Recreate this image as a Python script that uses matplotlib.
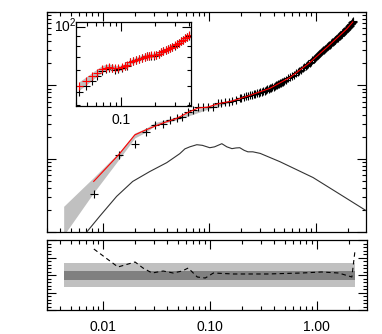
import numpy as np
import matplotlib
matplotlib.use("Agg")
import matplotlib.pyplot as plt
from matplotlib.ticker import LogLocator, NullFormatter, FixedLocator, MultipleLocator

plt.rcParams['font.family'] = ['Liberation Sans', 'DejaVu Sans']
plt.rcParams['mathtext.default'] = 'regular'
plt.rcParams['font.size'] = 10

# ---- main panel: measured points (black crosses)
k_dat = [0.00823, 0.0141, 0.0200, 0.0254, 0.0308, 0.0366, 0.0426, 0.0496, 0.0552,
         0.0628, 0.0700, 0.0780, 0.0869, 0.0968, 0.108, 0.120, 0.130, 0.140, 0.152,
         0.163, 0.178, 0.193,
         0.20, 0.21, 0.22, 0.23, 0.24, 0.25, 0.26, 0.27, 0.28, 0.29, 0.30,
         0.31, 0.32, 0.33, 0.34, 0.35, 0.36, 0.37, 0.38, 0.39, 0.40,
         0.41, 0.42, 0.43, 0.44, 0.45, 0.46, 0.47, 0.48, 0.49, 0.50,
         0.525, 0.55, 0.575, 0.60, 0.625, 0.65, 0.675, 0.70, 0.725, 0.75,
         0.775, 0.80, 0.825, 0.85, 0.875, 0.90, 0.925, 0.95, 0.975, 1.00,
         1.025, 1.05, 1.075, 1.10, 1.125, 1.15, 1.175, 1.20, 1.225, 1.25,
         1.275, 1.30, 1.325, 1.35, 1.375, 1.40, 1.425, 1.45, 1.475, 1.50,
         1.525, 1.55, 1.575, 1.60, 1.625, 1.65, 1.675, 1.70, 1.725, 1.75,
         1.775, 1.80, 1.825, 1.85, 1.875, 1.90, 1.925, 1.95, 1.975, 2.00,
         2.025, 2.05, 2.075, 2.10, 2.125, 2.15, 2.175, 2.20, 2.225, 2.24]
p_dat = [0.326, 1.13, 1.60, 2.32, 2.88, 2.97, 3.37, 3.58, 3.70,
         4.32, 4.59, 5.05, 5.05, 5.05, 5.10, 5.71, 5.80, 5.89, 6.00,
         6.08, 6.40, 6.67,
         6.80, 6.93, 7.05, 7.19, 7.33, 7.44, 7.55, 7.68, 7.80, 7.92, 8.05,
         8.20, 8.35, 8.50, 8.65, 8.80, 8.95, 9.11, 9.27, 9.43, 9.60,
         9.77, 9.95, 10.12, 10.30, 10.47, 10.65, 10.82, 11.00, 11.20, 11.40,
         11.9, 12.4, 12.9, 13.4, 13.95, 14.5, 15.15, 15.8, 16.4, 17.0,
         17.65, 18.3, 18.95, 19.6, 20.35, 21.1, 21.85, 22.6, 23.4, 24.2,
         24.95, 25.7, 26.55, 27.4, 28.25, 29.1, 29.95, 30.8, 31.65, 32.5,
         33.35, 34.2, 35.0, 35.8, 36.7, 37.6, 38.5, 39.4, 40.3, 41.2,
         42.1, 43.0, 43.9, 44.8, 45.6, 46.4, 47.3, 48.2, 49.3, 50.4,
         51.5, 52.6, 53.7, 54.8, 55.8, 56.8, 57.85, 58.9, 60.15, 61.4,
         62.6, 63.8, 65.1, 66.4, 67.9, 69.4, 70.9, 72.4, 73.7, 75.0]

# red model curve
k_mod = [0.00823, 0.0141, 0.0200, 0.0254, 0.0366, 0.0496, 0.0628, 0.078, 0.097,
         0.120, 0.163, 0.24, 0.37, 0.57, 0.88, 1.35, 1.95, 2.22]
p_mod = [0.49, 1.13, 2.11, 2.47, 3.06, 3.55, 4.25, 4.90, 5.05,
         5.60, 6.10, 7.30, 9.10, 12.8, 20.5, 35.8, 58.9, 73.3]

# grey uncertainty band
k_band = [0.0043, 0.0082, 0.0141, 0.0200, 0.0254, 0.0308, 0.05, 0.1, 0.2, 0.5, 1.0, 2.22]
p_hi = [0.224, 0.553, 1.21, 2.24, 2.60, 3.10, 3.75, 5.30, 7.00, 11.6, 25.0, 76.0]
p_lo = [0.09, 0.343, 0.97, 1.92, 2.30, 2.80, 3.40, 4.80, 6.50, 11.0, 23.5, 71.0]

# thin black curve
k_lin = [0.00708, 0.00937, 0.0135, 0.0191, 0.0276, 0.0399, 0.0528, 0.0590, 0.0656,
         0.0763, 0.0860, 0.101, 0.112, 0.131, 0.146, 0.163, 0.178, 0.193, 0.212,
         0.230, 0.256, 0.300, 0.459, 0.94, 1.68, 2.95]
p_lin = [0.10, 0.164, 0.306, 0.489, 0.667, 0.883, 1.17, 1.36, 1.45,
         1.55, 1.52, 1.41, 1.45, 1.60, 1.45, 1.37, 1.40, 1.41, 1.30,
         1.24, 1.24, 1.18, 0.91, 0.553, 0.327, 0.196]

# ---- inset
k_in = [0.0425, 0.0490, 0.0554, 0.0614, 0.0679, 0.0730, 0.0783, 0.0840, 0.0885,
        0.095, 0.102, 0.108, 0.113, 0.120, 0.127, 0.135, 0.144, 0.153, 0.162,
        0.170, 0.177, 0.186, 0.195, 0.205, 0.215, 0.225, 0.236, 0.248, 0.260,
        0.272, 0.285, 0.298, 0.312, 0.326, 0.340, 0.355, 0.370, 0.385, 0.400]
y_in_blk = [4.66, 5.00, 5.30, 5.60, 5.97, 6.10, 6.19, 6.15, 6.04,
            6.10, 6.19, 6.30, 6.34, 6.64, 6.70, 6.80, 6.88, 6.98, 7.05,
            7.10, 7.13, 7.13, 7.15, 7.20, 7.30, 7.42, 7.50, 7.60, 7.70,
            7.80, 7.92, 8.03, 8.15, 8.30, 8.45, 8.60, 8.75, 8.90, 9.03]
y_in_red = [5.00, 5.30, 5.60, 5.85, 6.10, 6.20, 6.25, 6.20, 6.15,
            6.15, 6.22, 6.30, 6.40, 6.60, 6.70, 6.80, 6.90, 6.98, 7.05,
            7.10, 7.14, 7.16, 7.18, 7.22, 7.30, 7.42, 7.52, 7.62, 7.72,
            7.82, 7.94, 8.06, 8.18, 8.32, 8.46, 8.62, 8.78, 8.92, 9.06]
y_in_hi = [5.25, 5.55, 5.85, 6.10, 6.35, 6.43, 6.47, 6.40, 6.35,
           6.35, 6.42, 6.48, 6.58, 6.78, 6.88, 6.98, 7.08, 7.16, 7.23,
           7.28, 7.32, 7.34, 7.36, 7.40, 7.48, 7.60, 7.70, 7.80, 7.90,
           8.00, 8.12, 8.24, 8.36, 8.50, 8.64, 8.80, 8.96, 9.10, 9.24]
y_in_lo = [4.75, 5.05, 5.35, 5.60, 5.85, 5.97, 6.03, 6.00, 5.95,
           5.95, 6.02, 6.12, 6.22, 6.42, 6.52, 6.62, 6.72, 6.80, 6.87,
           6.92, 6.96, 6.98, 7.00, 7.04, 7.12, 7.24, 7.34, 7.44, 7.54,
           7.64, 7.76, 7.88, 8.00, 8.14, 8.28, 8.44, 8.60, 8.74, 8.88]

# ---- ratio panel
k_rat = [0.00823, 0.01163, 0.01383, 0.0200, 0.0237, 0.0288, 0.0366, 0.0454, 0.0552,
         0.0628, 0.0763, 0.0906, 0.108, 0.166, 0.345, 0.723, 1.11, 1.60, 2.13, 2.27]
r_rat = [0.743, 0.40, 0.229, 0.371, 0.20, 0.057, 0.114, 0.057, 0.114,
         0.20, -0.057, -0.086, 0.057, 0.029, 0.029, 0.057, 0.086, 0.057, -0.057, 0.657]
band_k = [0.0043, 2.27]
band_outer = 0.343
band_inner_hi = 0.114
band_inner_lo = -0.143

W, H = 382, 334
fig = plt.figure(figsize=(W / 100, H / 100), dpi=100)
ax = fig.add_axes([47 / W, 1 - 232 / H, 319 / W, 220 / H])
axr = fig.add_axes([47 / W, 1 - 310 / H, 320 / W, 70 / H])
axin = fig.add_axes([76 / W, 1 - 106 / H, 115 / W, 84 / H])

def style(a):
    a.tick_params(which='both', direction='in', top=True, right=True, width=0.8)
    a.tick_params(which='major', length=6.5)
    a.tick_params(which='minor', length=3)
    for s in a.spines.values():
        s.set_linewidth(0.9)

# main
ax.fill_between(k_band, p_lo, p_hi, color='#c0c0c0', lw=0)
ax.plot(k_lin, p_lin, color='#333333', lw=0.8)
ax.plot(k_dat, p_dat, '+', color='k', ms=5.5, mew=0.8)
ax.plot(k_mod, p_mod, color='red', lw=0.8)
ax.set_xscale('log')
ax.set_yscale('log')
ax.set_xlim(0.003, 2.95)
ax.set_ylim(0.1, 100)
ax.xaxis.set_major_locator(FixedLocator([0.01, 0.1, 1.0]))
ax.xaxis.set_minor_locator(LogLocator(base=10, subs=np.arange(2, 10), numticks=20))
ax.yaxis.set_minor_locator(LogLocator(base=10, subs=np.arange(2, 10), numticks=20))
ax.xaxis.set_major_formatter(NullFormatter())
ax.xaxis.set_minor_formatter(NullFormatter())
ax.yaxis.set_major_formatter(NullFormatter())
ax.yaxis.set_minor_formatter(NullFormatter())
style(ax)
fig.text(54 / W, 1 - 26 / H, '$10^2$', ha='left', va='center', fontsize=10)

# inset
axin.fill_between(k_in, y_in_lo, y_in_hi, color='#c0c0c0', lw=0)
axin.plot(k_in, y_in_blk, '+', color='k', ms=6, mew=0.8)
axin.plot(k_in, y_in_red, '+', color='red', ms=6, mew=0.8)
axin.set_xscale('log')
axin.set_yscale('log')
axin.set_xlim(0.040, 0.416)
axin.set_ylim(3.95, 10.6)
axin.xaxis.set_major_locator(FixedLocator([0.1]))
axin.xaxis.set_major_formatter(plt.FixedFormatter(['0.1']))
axin.xaxis.set_minor_locator(LogLocator(base=10, subs=np.arange(2, 10), numticks=20))
axin.xaxis.set_minor_formatter(NullFormatter())
axin.yaxis.set_minor_locator(LogLocator(base=10, subs=np.arange(2, 10), numticks=20))
axin.yaxis.set_major_formatter(NullFormatter())
axin.yaxis.set_minor_formatter(NullFormatter())
style(axin)
axin.tick_params(axis='x', pad=5)

# ratio panel
axr.fill_between(band_k, -band_outer, band_outer, color='#c0c0c0', lw=0)
axr.fill_between(band_k, band_inner_lo, band_inner_hi, color='#808080', lw=0)
axr.plot(k_rat, r_rat, color='k', lw=0.8, dashes=(4, 3))
axr.set_xscale('log')
axr.set_xlim(0.003, 2.95)
axr.set_ylim(-1, 1)
axr.xaxis.set_major_locator(FixedLocator([0.01, 0.1, 1.0]))
axr.xaxis.set_major_formatter(plt.FixedFormatter(['0.01', '0.10', '1.00']))
axr.xaxis.set_minor_locator(LogLocator(base=10, subs=np.arange(2, 10), numticks=20))
axr.xaxis.set_minor_formatter(NullFormatter())
axr.yaxis.set_major_locator(MultipleLocator(0.5))
axr.yaxis.set_minor_locator(MultipleLocator(0.1))
axr.yaxis.set_major_formatter(NullFormatter())
style(axr)
axr.tick_params(axis='x', pad=7)

plt.savefig('out.png', dpi=100)
